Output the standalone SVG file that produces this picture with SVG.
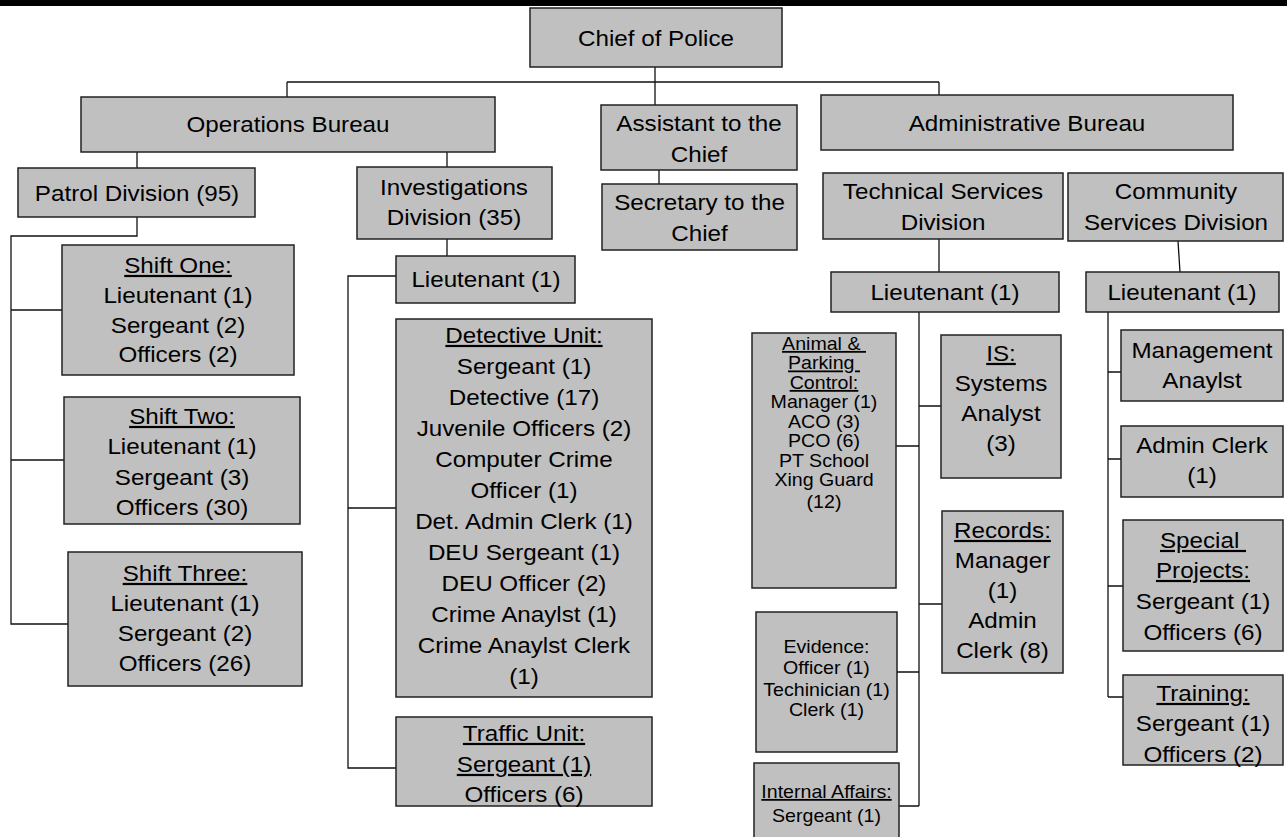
<svg xmlns="http://www.w3.org/2000/svg" width="1287" height="837" viewBox="0 0 1287 837">
<style>
rect.b{fill:#c0c0c0;stroke:#222;stroke-width:1.5}
.t{font-family:"Liberation Sans",Arial,sans-serif;font-size:22px;fill:#000;text-anchor:middle}
.s{font-family:"Liberation Sans",Arial,sans-serif;font-size:18px;fill:#000;text-anchor:middle}
.u{text-decoration:underline}
.c{fill:none;stroke:#111;stroke-width:1.3}
</style>
<rect x="0" y="0" width="1287" height="837" fill="#fff"/>
<rect x="0" y="0" width="1287" height="6" fill="#000"/>
<g id="connectors">
<path class="c" d="M655 67V105M287 82H939M287 82V97M939 82V95M659 170V184M137 152V168M447 152V167M447 239V256"/>
<path class="c" d="M137 217V236H11V624H68M11 310H62M11 460H64"/>
<path class="c" d="M396 276H348V768H396M348 508H396"/>
<path class="c" d="M939 239V272M1178 241L1180 272"/>
<path class="c" d="M919 312V806M896 446H919M919 406H941M919 604H942M897 672H919M899 806H919"/>
<path class="c" d="M1108 312V697M1108 372H1121M1108 459H1121M1108 586H1123M1108 697H1123"/>
</g>
<g id="chief"><rect class="b" x="530" y="8" width="252" height="59"/><text class="t" transform="translate(656 0) scale(1.1 1)"><tspan x="0" y="46">Chief of Police</tspan></text></g>
<g id="ops"><rect class="b" x="81" y="97" width="414" height="55"/><text class="t" transform="translate(288 0) scale(1.1 1)"><tspan x="0" y="132">Operations Bureau</tspan></text></g>
<g id="assistant"><rect class="b" x="601" y="105" width="196" height="65"/><text class="t" transform="translate(699 0) scale(1.1 1)"><tspan x="0" y="131">Assistant to the</tspan><tspan x="0" y="162">Chief</tspan></text></g>
<g id="secretary"><rect class="b" x="602" y="184" width="195" height="66"/><text class="t" transform="translate(699.5 0) scale(1.1 1)"><tspan x="0" y="210">Secretary to the</tspan><tspan x="0" y="241">Chief</tspan></text></g>
<g id="admin"><rect class="b" x="821" y="95" width="412" height="55"/><text class="t" transform="translate(1027 0) scale(1.1 1)"><tspan x="0" y="131">Administrative Bureau</tspan></text></g>
<g id="patrol"><rect class="b" x="18" y="168" width="237" height="49"/><text class="t" transform="translate(137 0) scale(1.1 1)"><tspan x="0" y="201">Patrol Division (95)</tspan></text></g>
<g id="investigations"><rect class="b" x="357" y="167" width="195" height="72"/><text class="t" transform="translate(454 0) scale(1.1 1)"><tspan x="0" y="195">Investigations</tspan><tspan x="0" y="225">Division (35)</tspan></text></g>
<g id="tech"><rect class="b" x="823" y="173" width="240" height="66"/><text class="t" transform="translate(943 0) scale(1.1 1)"><tspan x="0" y="199">Technical Services</tspan><tspan x="0" y="230">Division</tspan></text></g>
<g id="community"><rect class="b" x="1068" y="173" width="215" height="68"/><text class="t" transform="translate(1176 0) scale(1.1 1)"><tspan x="0" y="199">Community</tspan><tspan x="0" y="230">Services Division</tspan></text></g>
<g id="shift1"><rect class="b" x="62" y="245" width="232" height="130"/><text class="t" transform="translate(178 0) scale(1.1 1)"><tspan class="u" x="0" y="273">Shift One:</tspan><tspan x="0" y="303">Lieutenant (1)</tspan><tspan x="0" y="333">Sergeant (2)</tspan><tspan x="0" y="362">Officers (2)</tspan></text></g>
<g id="shift2"><rect class="b" x="64" y="397" width="236" height="127"/><text class="t" transform="translate(182 0) scale(1.1 1)"><tspan class="u" x="0" y="424">Shift Two:</tspan><tspan x="0" y="454">Lieutenant (1)</tspan><tspan x="0" y="485">Sergeant (3)</tspan><tspan x="0" y="515">Officers (30)</tspan></text></g>
<g id="shift3"><rect class="b" x="68" y="552" width="234" height="134"/><text class="t" transform="translate(185 0) scale(1.1 1)"><tspan class="u" x="0" y="581">Shift Three:</tspan><tspan x="0" y="611">Lieutenant (1)</tspan><tspan x="0" y="641">Sergeant (2)</tspan><tspan x="0" y="671">Officers (26)</tspan></text></g>
<g id="inv-lieutenant"><rect class="b" x="396" y="256" width="179" height="47"/><text class="t" transform="translate(486 0) scale(1.1 1)"><tspan x="0" y="287">Lieutenant (1)</tspan></text></g>
<g id="detective"><rect class="b" x="396" y="319" width="256" height="378"/><text class="t" transform="translate(524 0) scale(1.1 1)"><tspan class="u" x="0" y="343">Detective Unit:</tspan><tspan x="0" y="374">Sergeant (1)</tspan><tspan x="0" y="405">Detective (17)</tspan><tspan x="0" y="436">Juvenile Officers (2)</tspan><tspan x="0" y="467">Computer Crime</tspan><tspan x="0" y="498">Officer (1)</tspan><tspan x="0" y="529">Det. Admin Clerk (1)</tspan><tspan x="0" y="560">DEU Sergeant (1)</tspan><tspan x="0" y="591">DEU Officer (2)</tspan><tspan x="0" y="622">Crime Anaylst (1)</tspan><tspan x="0" y="653">Crime Anaylst Clerk</tspan><tspan x="0" y="684">(1)</tspan></text></g>
<g id="traffic"><rect class="b" x="396" y="717" width="256" height="89"/><text class="t" transform="translate(524 0) scale(1.1 1)"><tspan class="u" x="0" y="741">Traffic Unit:</tspan><tspan class="u" x="0" y="772">Sergeant (1)</tspan><tspan x="0" y="802">Officers (6)</tspan></text></g>
<g id="tech-lieutenant"><rect class="b" x="831" y="272" width="228" height="40"/><text class="t" transform="translate(945 0) scale(1.1 1)"><tspan x="0" y="300">Lieutenant (1)</tspan></text></g>
<g id="comm-lieutenant"><rect class="b" x="1086" y="272" width="193" height="40"/><text class="t" transform="translate(1182 0) scale(1.1 1)"><tspan x="0" y="300">Lieutenant (1)</tspan></text></g>
<g id="animal"><rect class="b" x="752" y="333" width="144" height="255"/><text class="s" transform="translate(824 0) scale(1.09 1)"><tspan class="u" x="0" y="350">Animal &amp;&#160;</tspan><tspan class="u" x="0" y="369.5">Parking&#160;</tspan><tspan class="u" x="0" y="389">Control:</tspan><tspan x="0" y="408.5">Manager (1)</tspan><tspan x="0" y="428">ACO (3)</tspan><tspan x="0" y="447.5">PCO (6)</tspan><tspan x="0" y="467">PT School</tspan><tspan x="0" y="486.5">Xing Guard</tspan><tspan x="0" y="508">(12)</tspan></text></g>
<g id="is"><rect class="b" x="941" y="335" width="120" height="143"/><text class="t" transform="translate(1001 0) scale(1.1 1)"><tspan class="u" x="0" y="361">IS:</tspan><tspan x="0" y="391">Systems</tspan><tspan x="0" y="421">Analyst</tspan><tspan x="0" y="451">(3)</tspan></text></g>
<g id="records"><rect class="b" x="942" y="511" width="121" height="162"/><text class="t" transform="translate(1002.5 0) scale(1.1 1)"><tspan class="u" x="0" y="538">Records:</tspan><tspan x="0" y="568">Manager</tspan><tspan x="0" y="598">(1)</tspan><tspan x="0" y="628">Admin</tspan><tspan x="0" y="658">Clerk (8)</tspan></text></g>
<g id="evidence"><rect class="b" x="756" y="612" width="141" height="140"/><text class="s" transform="translate(826.5 0) scale(1.09 1)"><tspan x="0" y="653">Evidence:</tspan><tspan x="0" y="674">Officer (1)</tspan><tspan x="0" y="696">Techinician (1)</tspan><tspan x="0" y="716">Clerk (1)</tspan></text></g>
<g id="internal-affairs"><rect class="b" x="754" y="763" width="145" height="90"/><text class="s" transform="translate(826.5 0) scale(1.09 1)"><tspan class="u" x="0" y="798">Internal Affairs:</tspan><tspan x="0" y="822">Sergeant (1)</tspan></text></g>
<g id="management"><rect class="b" x="1121" y="330" width="162" height="71"/><text class="t" transform="translate(1202 0) scale(1.1 1)"><tspan x="0" y="358">Management</tspan><tspan x="0" y="388">Anaylst</tspan></text></g>
<g id="admin-clerk"><rect class="b" x="1121" y="426" width="162" height="71"/><text class="t" transform="translate(1202 0) scale(1.1 1)"><tspan x="0" y="453">Admin Clerk</tspan><tspan x="0" y="483">(1)</tspan></text></g>
<g id="special"><rect class="b" x="1123" y="520" width="160" height="131"/><text class="t" transform="translate(1203 0) scale(1.1 1)"><tspan class="u" x="0" y="548">Special&#160;</tspan><tspan class="u" x="0" y="578">Projects:</tspan><tspan x="0" y="609">Sergeant (1)</tspan><tspan x="0" y="640">Officers (6)</tspan></text></g>
<g id="training"><rect class="b" x="1123" y="675" width="160" height="90"/><text class="t" transform="translate(1203 0) scale(1.1 1)"><tspan class="u" x="0" y="701">Training:</tspan><tspan x="0" y="731">Sergeant (1)</tspan><tspan x="0" y="762">Officers (2)</tspan></text></g>
</svg>
